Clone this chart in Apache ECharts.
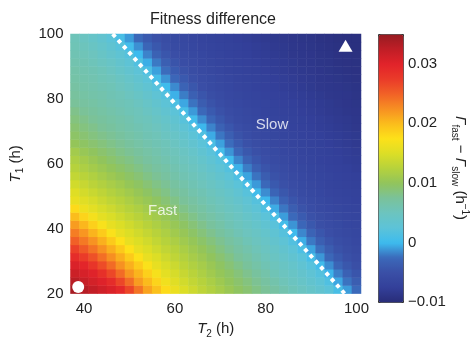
<!DOCTYPE html>
<html>
<head>
<meta charset="utf-8">
<script src="https://cdn.jsdelivr.net/npm/echarts@6.0.0/dist/echarts.min.js"></script>
<style>
  html, body { margin: 0; background: #fff; }
  #chart { width: 471px; height: 344px; }
</style>
</head>
<body>
<div id="chart"></div>
<script>
// cell centres (h): T2 cells 2 h wide over 37–101, T1 cells 2.5 h tall over 20–100
const t2Centers = [38, 40, 42, 44, 46, 48, 50, 52, 54, 56, 58, 60, 62, 64, 66, 68,
  70, 72, 74, 76, 78, 80, 82, 84, 86, 88, 90, 92, 94, 96, 98, 100];
const t1Centers = [21.25, 23.75, 26.25, 28.75, 31.25, 33.75, 36.25, 38.75, 41.25, 43.75,
  46.25, 48.75, 51.25, 53.75, 56.25, 58.75, 61.25, 63.75, 66.25, 68.75, 71.25, 73.75,
  76.25, 78.75, 81.25, 83.75, 86.25, 88.75, 91.25, 93.75, 96.25, 98.75];

const diffRows = [
  [0.0340, 0.0331, 0.0323, 0.0314, 0.0306, 0.0294, 0.0268, 0.0240, 0.0214, 0.0197, 0.0179, 0.0161, 0.0150, 0.0140, 0.0130, 0.0122, 0.0114, 0.0106, 0.0098, 0.0091, 0.0083, 0.0076, 0.0069, 0.0061, 0.0054, 0.0048, 0.0041, 0.0034, 0.0025, 0.0010, -0.0009, -0.0025],
  [0.0329, 0.0320, 0.0311, 0.0303, 0.0291, 0.0268, 0.0244, 0.0218, 0.0201, 0.0184, 0.0166, 0.0153, 0.0143, 0.0133, 0.0125, 0.0117, 0.0109, 0.0101, 0.0093, 0.0086, 0.0078, 0.0070, 0.0063, 0.0055, 0.0049, 0.0042, 0.0035, 0.0027, 0.0015, -0.0006, -0.0022, -0.0036],
  [0.0317, 0.0309, 0.0302, 0.0286, 0.0267, 0.0245, 0.0222, 0.0205, 0.0187, 0.0170, 0.0156, 0.0146, 0.0136, 0.0127, 0.0119, 0.0111, 0.0103, 0.0096, 0.0088, 0.0080, 0.0072, 0.0064, 0.0056, 0.0050, 0.0044, 0.0037, 0.0029, 0.0019, -0.0002, -0.0018, -0.0033, -0.0044],
  [0.0306, 0.0298, 0.0281, 0.0264, 0.0245, 0.0224, 0.0207, 0.0190, 0.0173, 0.0158, 0.0148, 0.0139, 0.0129, 0.0121, 0.0114, 0.0106, 0.0098, 0.0090, 0.0082, 0.0074, 0.0066, 0.0058, 0.0052, 0.0046, 0.0039, 0.0031, 0.0021, 0.0003, -0.0014, -0.0030, -0.0042, -0.0050],
  [0.0290, 0.0275, 0.0261, 0.0243, 0.0225, 0.0208, 0.0191, 0.0174, 0.0159, 0.0150, 0.0140, 0.0131, 0.0123, 0.0115, 0.0108, 0.0100, 0.0092, 0.0084, 0.0075, 0.0068, 0.0060, 0.0053, 0.0047, 0.0040, 0.0033, 0.0024, 0.0008, -0.0011, -0.0027, -0.0040, -0.0049, -0.0055],
  [0.0271, 0.0256, 0.0240, 0.0224, 0.0208, 0.0192, 0.0175, 0.0159, 0.0150, 0.0141, 0.0132, 0.0125, 0.0117, 0.0109, 0.0102, 0.0094, 0.0085, 0.0077, 0.0069, 0.0062, 0.0055, 0.0048, 0.0042, 0.0035, 0.0026, 0.0013, -0.0007, -0.0023, -0.0037, -0.0047, -0.0054, -0.0058],
  [0.0251, 0.0237, 0.0223, 0.0207, 0.0191, 0.0175, 0.0159, 0.0150, 0.0142, 0.0133, 0.0125, 0.0118, 0.0110, 0.0103, 0.0095, 0.0087, 0.0079, 0.0071, 0.0064, 0.0056, 0.0050, 0.0043, 0.0036, 0.0028, 0.0017, -0.0004, -0.0020, -0.0035, -0.0045, -0.0052, -0.0057, -0.0061],
  [0.0235, 0.0221, 0.0205, 0.0190, 0.0173, 0.0159, 0.0150, 0.0142, 0.0134, 0.0126, 0.0119, 0.0111, 0.0104, 0.0096, 0.0088, 0.0080, 0.0072, 0.0065, 0.0057, 0.0051, 0.0045, 0.0038, 0.0030, 0.0020, 0.0001, -0.0016, -0.0031, -0.0043, -0.0051, -0.0056, -0.0060, -0.0063],
  [0.0218, 0.0203, 0.0187, 0.0171, 0.0158, 0.0150, 0.0142, 0.0134, 0.0126, 0.0119, 0.0112, 0.0105, 0.0097, 0.0089, 0.0081, 0.0073, 0.0066, 0.0058, 0.0052, 0.0046, 0.0039, 0.0032, 0.0023, 0.0006, -0.0012, -0.0028, -0.0041, -0.0050, -0.0055, -0.0059, -0.0063, -0.0065],
  [0.0200, 0.0184, 0.0168, 0.0156, 0.0149, 0.0141, 0.0133, 0.0126, 0.0119, 0.0112, 0.0105, 0.0098, 0.0090, 0.0082, 0.0074, 0.0067, 0.0060, 0.0054, 0.0048, 0.0041, 0.0034, 0.0025, 0.0011, -0.0009, -0.0025, -0.0038, -0.0048, -0.0054, -0.0058, -0.0062, -0.0065, -0.0067],
  [0.0180, 0.0164, 0.0155, 0.0147, 0.0140, 0.0132, 0.0125, 0.0119, 0.0112, 0.0105, 0.0098, 0.0090, 0.0082, 0.0075, 0.0068, 0.0061, 0.0055, 0.0049, 0.0043, 0.0035, 0.0027, 0.0015, -0.0005, -0.0021, -0.0036, -0.0046, -0.0053, -0.0058, -0.0061, -0.0064, -0.0067, -0.0069],
  [0.0160, 0.0153, 0.0146, 0.0138, 0.0131, 0.0125, 0.0118, 0.0111, 0.0105, 0.0098, 0.0090, 0.0083, 0.0075, 0.0069, 0.0062, 0.0056, 0.0051, 0.0044, 0.0037, 0.0029, 0.0019, -0.0001, -0.0017, -0.0033, -0.0044, -0.0051, -0.0057, -0.0060, -0.0064, -0.0066, -0.0069, -0.0071],
  [0.0152, 0.0144, 0.0137, 0.0130, 0.0123, 0.0117, 0.0111, 0.0104, 0.0097, 0.0090, 0.0083, 0.0076, 0.0070, 0.0063, 0.0058, 0.0052, 0.0046, 0.0039, 0.0031, 0.0022, 0.0004, -0.0014, -0.0030, -0.0042, -0.0050, -0.0056, -0.0060, -0.0063, -0.0066, -0.0068, -0.0070, -0.0072],
  [0.0143, 0.0136, 0.0128, 0.0122, 0.0116, 0.0110, 0.0103, 0.0097, 0.0090, 0.0083, 0.0077, 0.0070, 0.0064, 0.0058, 0.0053, 0.0047, 0.0040, 0.0033, 0.0024, 0.0009, -0.0010, -0.0026, -0.0040, -0.0049, -0.0055, -0.0059, -0.0062, -0.0065, -0.0068, -0.0070, -0.0072, -0.0074],
  [0.0133, 0.0127, 0.0121, 0.0114, 0.0108, 0.0102, 0.0096, 0.0090, 0.0083, 0.0077, 0.0071, 0.0065, 0.0059, 0.0054, 0.0049, 0.0042, 0.0035, 0.0026, 0.0013, -0.0007, -0.0022, -0.0037, -0.0047, -0.0053, -0.0058, -0.0061, -0.0065, -0.0067, -0.0069, -0.0071, -0.0073, -0.0075],
  [0.0125, 0.0119, 0.0113, 0.0107, 0.0101, 0.0095, 0.0089, 0.0083, 0.0077, 0.0071, 0.0066, 0.0060, 0.0055, 0.0050, 0.0043, 0.0036, 0.0028, 0.0018, -0.0003, -0.0019, -0.0034, -0.0045, -0.0052, -0.0057, -0.0061, -0.0064, -0.0067, -0.0069, -0.0071, -0.0073, -0.0075, -0.0077],
  [0.0119, 0.0113, 0.0106, 0.0100, 0.0094, 0.0088, 0.0083, 0.0077, 0.0071, 0.0066, 0.0061, 0.0056, 0.0051, 0.0045, 0.0038, 0.0030, 0.0021, 0.0002, -0.0016, -0.0031, -0.0043, -0.0051, -0.0056, -0.0060, -0.0063, -0.0066, -0.0069, -0.0071, -0.0073, -0.0075, -0.0077, -0.0079],
  [0.0112, 0.0105, 0.0099, 0.0093, 0.0088, 0.0082, 0.0077, 0.0072, 0.0067, 0.0062, 0.0057, 0.0053, 0.0047, 0.0040, 0.0032, 0.0023, 0.0007, -0.0012, -0.0028, -0.0041, -0.0049, -0.0055, -0.0059, -0.0063, -0.0065, -0.0068, -0.0070, -0.0072, -0.0074, -0.0076, -0.0078, -0.0080],
  [0.0102, 0.0097, 0.0092, 0.0087, 0.0082, 0.0077, 0.0072, 0.0067, 0.0062, 0.0058, 0.0054, 0.0048, 0.0041, 0.0034, 0.0025, 0.0011, -0.0008, -0.0024, -0.0038, -0.0048, -0.0054, -0.0058, -0.0062, -0.0065, -0.0068, -0.0070, -0.0072, -0.0074, -0.0076, -0.0078, -0.0080, -0.0082],
  [0.0096, 0.0091, 0.0086, 0.0081, 0.0077, 0.0072, 0.0067, 0.0063, 0.0058, 0.0055, 0.0049, 0.0043, 0.0036, 0.0027, 0.0016, -0.0005, -0.0021, -0.0035, -0.0046, -0.0053, -0.0058, -0.0061, -0.0064, -0.0067, -0.0069, -0.0071, -0.0073, -0.0075, -0.0077, -0.0079, -0.0081, -0.0083],
  [0.0091, 0.0086, 0.0081, 0.0076, 0.0072, 0.0067, 0.0063, 0.0059, 0.0055, 0.0051, 0.0044, 0.0037, 0.0029, 0.0019, -0.0001, -0.0017, -0.0032, -0.0043, -0.0051, -0.0057, -0.0060, -0.0064, -0.0067, -0.0069, -0.0071, -0.0073, -0.0075, -0.0077, -0.0079, -0.0081, -0.0083, -0.0085],
  [0.0086, 0.0081, 0.0076, 0.0072, 0.0068, 0.0064, 0.0060, 0.0055, 0.0052, 0.0046, 0.0039, 0.0032, 0.0022, 0.0004, -0.0014, -0.0029, -0.0041, -0.0050, -0.0056, -0.0060, -0.0063, -0.0066, -0.0068, -0.0070, -0.0072, -0.0074, -0.0076, -0.0078, -0.0080, -0.0082, -0.0084, -0.0086],
  [0.0081, 0.0076, 0.0072, 0.0068, 0.0064, 0.0060, 0.0056, 0.0053, 0.0047, 0.0040, 0.0033, 0.0025, 0.0009, -0.0010, -0.0026, -0.0039, -0.0048, -0.0055, -0.0059, -0.0062, -0.0065, -0.0068, -0.0070, -0.0072, -0.0074, -0.0076, -0.0078, -0.0080, -0.0082, -0.0084, -0.0086, -0.0087],
  [0.0075, 0.0071, 0.0068, 0.0064, 0.0060, 0.0057, 0.0054, 0.0049, 0.0042, 0.0035, 0.0027, 0.0014, -0.0006, -0.0022, -0.0037, -0.0046, -0.0053, -0.0058, -0.0061, -0.0065, -0.0067, -0.0069, -0.0071, -0.0073, -0.0075, -0.0077, -0.0079, -0.0081, -0.0083, -0.0085, -0.0087, -0.0088],
  [0.0072, 0.0068, 0.0065, 0.0062, 0.0058, 0.0055, 0.0050, 0.0044, 0.0037, 0.0029, 0.0018, -0.0003, -0.0019, -0.0034, -0.0044, -0.0052, -0.0057, -0.0061, -0.0064, -0.0067, -0.0069, -0.0071, -0.0073, -0.0075, -0.0077, -0.0079, -0.0081, -0.0083, -0.0085, -0.0086, -0.0087, -0.0089],
  [0.0069, 0.0065, 0.0062, 0.0059, 0.0056, 0.0051, 0.0045, 0.0038, 0.0031, 0.0021, 0.0002, -0.0015, -0.0031, -0.0042, -0.0051, -0.0056, -0.0060, -0.0063, -0.0066, -0.0069, -0.0071, -0.0073, -0.0075, -0.0077, -0.0079, -0.0081, -0.0083, -0.0085, -0.0086, -0.0087, -0.0088, -0.0090],
  [0.0066, 0.0063, 0.0060, 0.0056, 0.0053, 0.0047, 0.0040, 0.0033, 0.0024, 0.0007, -0.0012, -0.0028, -0.0040, -0.0049, -0.0055, -0.0059, -0.0062, -0.0065, -0.0068, -0.0070, -0.0072, -0.0074, -0.0076, -0.0078, -0.0080, -0.0082, -0.0084, -0.0086, -0.0087, -0.0088, -0.0090, -0.0091],
  [0.0064, 0.0061, 0.0058, 0.0054, 0.0048, 0.0041, 0.0034, 0.0026, 0.0012, -0.0008, -0.0024, -0.0038, -0.0047, -0.0054, -0.0058, -0.0062, -0.0065, -0.0068, -0.0070, -0.0072, -0.0074, -0.0076, -0.0078, -0.0080, -0.0082, -0.0084, -0.0085, -0.0087, -0.0088, -0.0090, -0.0091, -0.0092],
  [0.0061, 0.0058, 0.0054, 0.0049, 0.0043, 0.0036, 0.0028, 0.0016, -0.0004, -0.0020, -0.0035, -0.0045, -0.0053, -0.0057, -0.0061, -0.0064, -0.0067, -0.0069, -0.0071, -0.0073, -0.0075, -0.0077, -0.0079, -0.0081, -0.0083, -0.0085, -0.0086, -0.0088, -0.0089, -0.0091, -0.0092, -0.0093],
  [0.0058, 0.0055, 0.0051, 0.0044, 0.0037, 0.0030, 0.0020, 0.0000, -0.0017, -0.0032, -0.0043, -0.0051, -0.0056, -0.0060, -0.0063, -0.0067, -0.0069, -0.0071, -0.0073, -0.0075, -0.0077, -0.0079, -0.0081, -0.0083, -0.0085, -0.0086, -0.0087, -0.0089, -0.0090, -0.0092, -0.0093, -0.0094],
  [0.0056, 0.0052, 0.0046, 0.0039, 0.0032, 0.0022, 0.0005, -0.0013, -0.0029, -0.0041, -0.0050, -0.0056, -0.0060, -0.0063, -0.0066, -0.0068, -0.0070, -0.0072, -0.0074, -0.0076, -0.0078, -0.0080, -0.0082, -0.0084, -0.0086, -0.0087, -0.0088, -0.0090, -0.0091, -0.0093, -0.0094, -0.0095],
  [0.0054, 0.0048, 0.0041, 0.0034, 0.0025, 0.0010, -0.0010, -0.0026, -0.0039, -0.0048, -0.0054, -0.0059, -0.0062, -0.0065, -0.0068, -0.0070, -0.0072, -0.0074, -0.0076, -0.0078, -0.0080, -0.0082, -0.0084, -0.0085, -0.0087, -0.0088, -0.0089, -0.0091, -0.0092, -0.0094, -0.0095, -0.0095],
];

// dotted zero-difference boundary, [T2, T1]
const boundary = [[46.3, 100], [97.4, 20]];
const circleMark = [38.7, 22];
const triangleMark = [97.6, 96.4];
const regionLabels = [
  { name: 'Fast', value: [57.3, 45.6] },
  { name: 'Slow', value: [81.4, 72.0] },
];

const xTicks = [40, 60, 80, 100];
const barTicks = [-0.01, 0, 0.01, 0.02, 0.03];

// colour scale, stops every 0.0025 from -0.01 to 0.035
const scale = [
  '#282c78', '#33409a', '#3a4fa6', '#3b69ba', '#3dbbee', '#5cc3d8', '#6cc4bf',
  '#7ac29a', '#91c45c', '#b6d23c', '#dcde26', '#fde11a', '#fbbd1c', '#f78f22',
  '#f16227', '#ea3b29', '#e2232a', '#c01e26', '#961b21',
];

const INK = '#222';
const FONT = '"Liberation Sans", Arial, sans-serif';

const cells = [];
diffRows.forEach((row, j) => row.forEach((v, i) => cells.push([i, j, v])));

const subRich = {
  i: { fontStyle: 'italic', fontSize: 15, lineHeight: 20, color: INK },
  sub: { fontSize: 10, lineHeight: 10, verticalAlign: 'bottom', color: INK },
  sup: { fontSize: 10, lineHeight: 10, verticalAlign: 'top', color: INK },
  n: { fontSize: 15, lineHeight: 20, color: INK },
};

const chart = echarts.init(document.getElementById('chart'), null, { renderer: 'canvas' });
chart.setOption({
  animation: false,
  textStyle: { fontFamily: FONT, color: INK },
  title: {
    text: 'Fitness difference', left: 150, top: 12, padding: 0,
    textStyle: { fontSize: 16, fontWeight: 'normal', color: INK, fontFamily: FONT },
  },
  grid: [
    { left: 69, top: 34, width: 292, height: 268 },
    { left: 378, top: 34, width: 25, height: 268 },
  ],
  xAxis: [
    { type: 'category', gridIndex: 0, data: t2Centers, show: false, position: 'top' },
    {
      type: 'value', gridIndex: 0, min: 37, max: 101, position: 'bottom',
      axisLine: { show: false }, axisTick: { show: false, customValues: xTicks }, splitLine: { show: false },
      axisLabel: { customValues: xTicks, fontSize: 15, color: INK, margin: 8 },
      name: '{i|T}{sub|2}{n| (h)}', nameLocation: 'middle', nameGap: 24,
      nameTextStyle: { rich: subRich },
    },
    { type: 'value', gridIndex: 1, show: false, min: 0, max: 1 },
  ],
  yAxis: [
    { type: 'category', gridIndex: 0, data: t1Centers, show: false, position: 'right' },
    {
      type: 'value', gridIndex: 0, min: 20, max: 100, interval: 20, position: 'left',
      axisLine: { show: false }, axisTick: { show: false }, splitLine: { show: false },
      axisLabel: { fontSize: 15, color: INK, margin: 7 },
      name: '{i|T}{sub|1}{n| (h)}', nameLocation: 'middle', nameGap: 45, nameRotate: 90,
      nameTextStyle: { rich: subRich },
    },
    {
      type: 'value', gridIndex: 1, min: -0.01, max: 0.035, position: 'right',
      axisLine: { show: false }, axisTick: { show: false, customValues: barTicks }, splitLine: { show: false },
      axisLabel: {
        customValues: barTicks, fontSize: 15, color: INK, margin: 5,
        formatter: (v) => (v < 0 ? '\u2212' + String(-v) : String(v)),
      },
      name: '{i|Γ}{sub|fast}{n| \u2212 }{i|Γ}{sub|slow}{n| (h}{sup|\u22121}{n|)}',
      nameLocation: 'middle', nameGap: 45, nameRotate: -90,
      nameTextStyle: { rich: subRich },
    },
  ],
  visualMap: {
    type: 'continuous', min: -0.01, max: 0.035, seriesIndex: 0,
    left: 378, top: 34, itemWidth: 25, itemHeight: 268, padding: 0,
    calculable: false, hoverLink: false, orient: 'vertical',
    borderColor: '#333', borderWidth: 1,
    inRange: { color: scale },
  },
  series: [
    {
      type: 'heatmap', xAxisIndex: 0, yAxisIndex: 0, data: cells,
      itemStyle: { borderWidth: 0 }, emphasis: { disabled: true },
    },
    {
      type: 'line', xAxisIndex: 1, yAxisIndex: 1, data: boundary,
      symbol: 'none', silent: true,
      lineStyle: { color: '#fff', width: 4, type: [4, 4], cap: 'butt' },
      z: 3,
    },
    {
      type: 'scatter', xAxisIndex: 1, yAxisIndex: 1, silent: true, z: 4,
      data: [
        { value: circleMark, symbol: 'circle', symbolSize: 12 },
        { value: triangleMark, symbol: 'triangle', symbolSize: [14, 12] },
      ],
      itemStyle: { color: '#fff', opacity: 1 },
    },
    {
      type: 'scatter', xAxisIndex: 1, yAxisIndex: 1, silent: true, z: 4,
      data: regionLabels, symbolSize: 0,
      label: {
        show: true, position: 'inside', formatter: '{b}',
        color: '#fff', fontSize: 15, fontFamily: FONT,
      },
    },
  ],
});
</script>
</body>
</html>
